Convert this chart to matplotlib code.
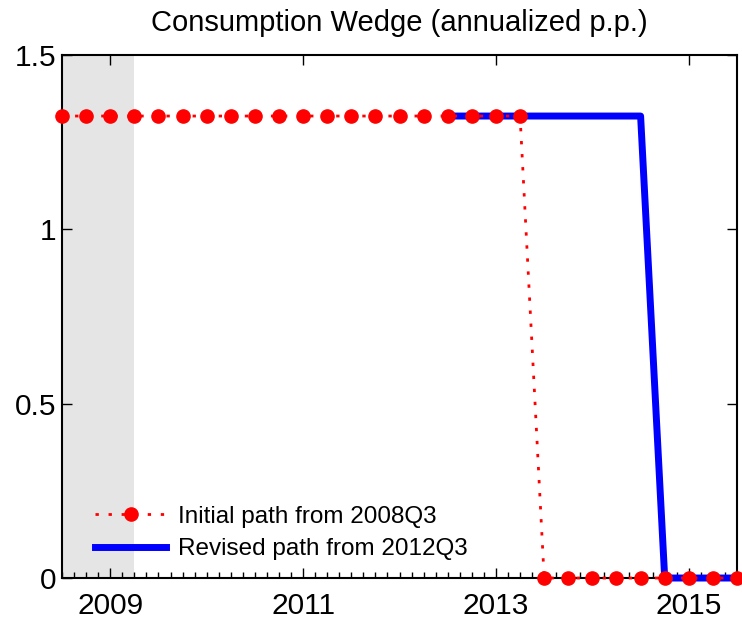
import matplotlib
matplotlib.use("Agg")
import matplotlib.pyplot as plt
from matplotlib.ticker import MultipleLocator, FixedLocator

plt.rcParams['font.family'] = ['Liberation Sans', 'DejaVu Sans']

# quarterly data
quarters = ['2008Q3', '2008Q4',
            '2009Q1', '2009Q2', '2009Q3', '2009Q4',
            '2010Q1', '2010Q2', '2010Q3', '2010Q4',
            '2011Q1', '2011Q2', '2011Q3', '2011Q4',
            '2012Q1', '2012Q2', '2012Q3', '2012Q4',
            '2013Q1', '2013Q2', '2013Q3', '2013Q4',
            '2014Q1', '2014Q2', '2014Q3', '2014Q4',
            '2015Q1', '2015Q2', '2015Q3']
initial_path = [1.325, 1.325, 1.325, 1.325, 1.325, 1.325, 1.325, 1.325,
                1.325, 1.325, 1.325, 1.325, 1.325, 1.325, 1.325, 1.325,
                1.325, 1.325, 1.325, 1.325,
                0, 0, 0, 0, 0, 0, 0, 0, 0]
revised_start = '2012Q3'
revised_path = [1.325, 1.325, 1.325, 1.325, 1.325, 1.325, 1.325, 1.325, 1.325,
                0, 0, 0, 0]
shade_start, shade_end = '2008Q3', '2009Q2'
year_ticks = [2009, 2011, 2013, 2015]
y_ticks = [0, 0.5, 1, 1.5]


def q2num(q):
    return int(q[:4]) + (int(q[5]) - 1) / 4.0


x_all = [q2num(q) for q in quarters]
i0 = quarters.index(revised_start)
x_rev = x_all[i0:i0 + len(revised_path)]

fig = plt.figure(figsize=(7.42, 6.21), dpi=100)
ax = fig.add_axes([0.0836, 0.0692, 0.9097, 0.8422])

ax.axvspan(q2num(shade_start), q2num(shade_end), color='#e5e5e5', lw=0, zorder=0)

l2, = ax.plot(x_rev, revised_path, color='#0000ff', lw=5, solid_joinstyle='round',
              label='Revised path from 2012Q3', clip_on=False, zorder=3)
l1, = ax.plot(x_all, initial_path, color='#ff0000', ls=(0, (1.2, 3.5)), lw=2, marker='o',
              markersize=9.5, markerfacecolor='#ff0000', markeredgecolor='#ff0000',
              label='Initial path from 2008Q3', clip_on=False, zorder=4)

ax.set_xlim(x_all[0], x_all[-1])
ax.set_ylim(0, 1.5)
ax.xaxis.set_major_locator(FixedLocator(year_ticks))
ax.xaxis.set_minor_locator(MultipleLocator(0.125))
ax.yaxis.set_major_locator(FixedLocator(y_ticks))
ax.set_yticklabels(['0', '0.5', '1', '1.5'])
ax.tick_params(which='both', direction='in', top=True, right=True,
               labelsize=21.5, width=1)
ax.tick_params(which='major', length=7)
ax.tick_params(axis='x', which='major', pad=10)
ax.tick_params(axis='y', which='major', pad=4)
ax.tick_params(which='minor', length=4, top=False)
for s in ax.spines.values():
    s.set_linewidth(1.5)

ax.set_title('Consumption Wedge (annualized p.p.)', fontsize=21, pad=17)

ax.legend(handles=[l1, l2], loc='lower left', frameon=False, fontsize=17.5,
          handlelength=2.9, handletextpad=0.5, borderaxespad=0.0,
          labelspacing=0.45, bbox_to_anchor=(0.035, 0.015))

fig.savefig('out.png', dpi=100)
